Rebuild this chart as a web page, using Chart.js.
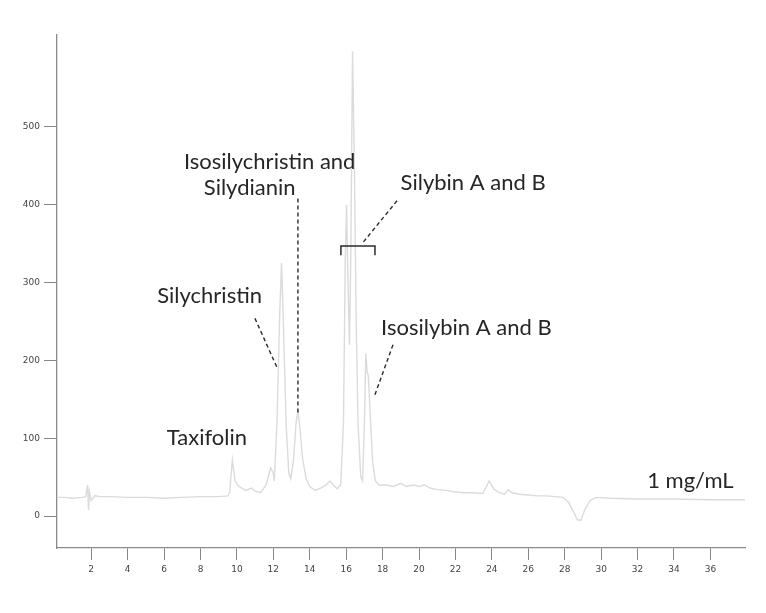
<!DOCTYPE html>
<html>
<head>
<meta charset="utf-8">
<script src="https://cdn.jsdelivr.net/npm/chart.js@4.4.1/dist/chart.umd.min.js"></script>
<style>
  html, body { margin: 0; padding: 0; background: #ffffff; }
  #wrap { width: 766px; height: 613px; position: relative; }
</style>
</head>
<body>
<div id="wrap"><canvas id="c"></canvas></div>
<script>
// Retention time (min) and detector signal
const times = [0.0,0.5,1.0,1.5,1.7,1.8,1.85,1.9,2.0,2.2,2.5,3,4,5,6,7,8,9,9.5,9.6,9.75,9.9,10.1,10.5,10.8,11.0,11.3,11.6,11.85,12.0,12.05,12.2,12.35,12.45,12.55,12.7,12.85,12.95,13.1,13.25,13.35,13.45,13.6,13.8,14.0,14.3,14.6,14.9,15.1,15.3,15.5,15.7,15.85,15.95,16.02,16.1,16.18,16.25,16.35,16.45,16.55,16.65,16.8,16.9,17.0,17.08,17.15,17.22,17.32,17.45,17.6,17.8,18.2,18.6,19.0,19.3,19.7,20.0,20.3,20.6,21,21.5,22,22.5,23.0,23.5,23.7,23.85,24.1,24.4,24.7,24.9,25.1,25.5,26,26.5,27,27.5,27.9,28.2,28.5,28.7,28.9,29.1,29.4,29.7,30.5,32,34,36,37.9];
const signal = [24,24,23,24,25,40,8,32,20,26,25,25,24,24,23,24,25,25,26,31,72,45,38,33,36,32,30,40,62,55,45,120,260,325,250,120,55,48,70,120,135,115,75,48,38,33,36,40,45,40,35,40,120,330,400,300,220,330,597,450,250,120,50,45,120,209,185,180,130,70,45,40,40,38,42,38,40,38,40,36,34,33,31,30,30,29,38,45,35,30,28,34,30,28,27,26,26,25,24,18,5,-5,-5,8,20,24,23,22,22,21,21];
const xTicks = [2,4,6,8,10,12,14,16,18,20,22,24,26,28,30,32,34,36];
const yTicks = [0,100,200,300,400,500];

// Peak labels (text, x, y in data units)
const labelTexts = ["Taxifolin","Silychristin","Isosilychristin and","Silydianin","Silybin A and B","Isosilybin A and B","1 mg/mL"];
const labelX = [8.35, 8.5, 11.8, 10.7, 22.97, 22.6, 34.9];
const labelY = [100, 283, 455, 421, 428, 242, 45];
// Dashed leader lines (x1,y1,x2,y2 in data units)
const leaderX1 = [10.99, 13.35, 18.79, 18.57];
const leaderY1 = [254, 408, 405, 220];
const leaderX2 = [12.2, 13.35, 16.87, 17.58];
const leaderY2 = [191, 131, 350, 156];
// Bracket over Silybin A and B
const bracketX = [15.71, 17.58];
const bracketY = [347, 335];

const points = times.map((t, i) => ({x: t, y: signal[i]}));

const annot = {
  id: 'annot',
  afterDatasetsDraw(chart) {
    const ctx = chart.ctx, xs = chart.scales.x, ys = chart.scales.y;
    ctx.save();
    ctx.strokeStyle = '#2a2a2a';
    ctx.lineWidth = 1.4;
    ctx.setLineDash([4, 3]);
    for (let i = 0; i < leaderX1.length; i++) {
      ctx.beginPath();
      ctx.moveTo(xs.getPixelForValue(leaderX1[i]), ys.getPixelForValue(leaderY1[i]));
      ctx.lineTo(xs.getPixelForValue(leaderX2[i]), ys.getPixelForValue(leaderY2[i]));
      ctx.stroke();
    }
    ctx.setLineDash([]);
    ctx.lineWidth = 1.5;
    const bx1 = xs.getPixelForValue(bracketX[0]), bx2 = xs.getPixelForValue(bracketX[1]);
    const by1 = ys.getPixelForValue(bracketY[0]), by2 = ys.getPixelForValue(bracketY[1]);
    ctx.beginPath();
    ctx.moveTo(bx1, by2); ctx.lineTo(bx1, by1); ctx.lineTo(bx2, by1); ctx.lineTo(bx2, by2);
    ctx.stroke();
    ctx.fillStyle = '#262626';
    ctx.font = '22px Lato, "Open Sans", sans-serif';
    ctx.textAlign = 'center';
    ctx.textBaseline = 'middle';
    for (let i = 0; i < labelTexts.length; i++) {
      ctx.fillText(labelTexts[i], xs.getPixelForValue(labelX[i]), ys.getPixelForValue(labelY[i]));
    }
    ctx.restore();
  }
};

new Chart(document.getElementById('c'), {
  type: 'line',
  data: {
    datasets: [{
      data: points,
      borderColor: '#dedada',
      borderWidth: 1.4,
      pointRadius: 0,
      tension: 0,
      fill: false
    }]
  },
  options: {
    responsive: true,
    maintainAspectRatio: false,
    animation: false,
    layout: { padding: { top: 35, right: 21, left: 0, bottom: 0 } },
    plugins: { legend: { display: false }, tooltip: { enabled: false } },
    scales: {
      x: {
        type: 'linear',
        min: 0.12,
        max: 37.9,
        afterFit(s) { s.height = 65; },
        afterBuildTicks(s) { s.ticks = xTicks.map(v => ({value: v})); },
        grid: { drawOnChartArea: false, drawTicks: true, tickLength: 12, color: '#888', lineWidth: 1 },
        border: { display: true, color: '#8a8a8a', width: 1.3 },
        ticks: { color: '#444', font: { size: 9, family: 'Verdana, "DejaVu Sans", sans-serif' }, padding: 4, maxRotation: 0, autoSkip: false }
      },
      y: {
        type: 'linear',
        min: -41,
        max: 618,
        afterFit(s) { s.width = 57; },
        afterBuildTicks(s) { s.ticks = yTicks.map(v => ({value: v})); },
        grid: { drawOnChartArea: false, drawTicks: true, tickLength: 13, color: '#888', lineWidth: 1 },
        border: { display: true, color: '#8a8a8a', width: 1.3 },
        ticks: { color: '#444', font: { size: 9, family: 'Verdana, "DejaVu Sans", sans-serif' }, padding: 4 }
      }
    }
  },
  plugins: [annot]
});
</script>
</body>
</html>
